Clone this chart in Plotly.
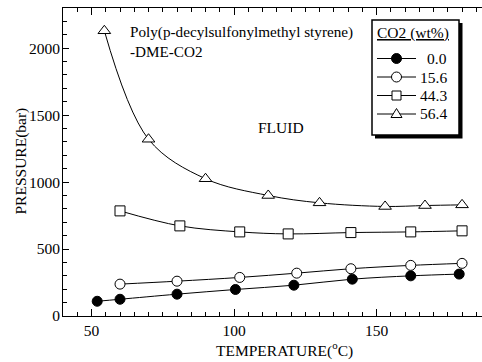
import plotly.graph_objects as go

# Data
temp_00 = [52, 60, 80, 100.5, 121, 141.5, 162, 179]
pres_00 = [110, 125, 163, 198, 230, 275, 300, 313]

temp_156 = [60, 80, 102, 122, 141, 162, 180]
pres_156 = [238, 260, 288, 320, 353, 378, 393]

temp_443 = [60, 81, 102, 119, 141, 162, 180]
pres_443 = [785, 673, 628, 613, 623, 628, 636]

temp_564 = [54.5, 70, 90, 112, 130, 153, 167, 180]
pres_564 = [2130, 1320, 1025, 900, 845, 818, 825, 830]

series_names = ["0.0", "15.6", "44.3", "56.4"]
legend_title = "CO2 (wt%)"

FONT = "Liberation Serif, Times New Roman, serif"
FS = 15.5

# plot area in pixels (used to place the hand-made legend box)
L, R, T, B = 63, 482, 8, 316


def px(xp):
    return (xp - L) / (R - L)


def py(yp):
    return (B - yp) / (B - T)


fig = go.Figure()

styles = [
    ("circle", "black"),
    ("circle", "white"),
    ("square", "white"),
    ("triangle-up", "white"),
]
data = [(temp_00, pres_00), (temp_156, pres_156), (temp_443, pres_443), (temp_564, pres_564)]
for (x, y), (sym, fill), name in zip(data, styles, series_names):
    fig.add_trace(go.Scatter(
        x=x, y=y, name=name, mode="lines+markers", showlegend=False,
        line=dict(color="black", width=1, shape="spline", smoothing=1),
        marker=dict(symbol=sym, size=10 if sym != "triangle-up" else 11,
                    color=fill, line=dict(color="black", width=1)),
    ))

shapes = [
    # legend shadow and box
    dict(type="rect", xref="paper", yref="paper",
         x0=px(375), x1=px(462.5), y0=py(138.5), y1=py(23),
         fillcolor="black", line=dict(width=0), layer="above"),
    dict(type="rect", xref="paper", yref="paper",
         x0=px(372), x1=px(459), y0=py(135), y1=py(20),
         fillcolor="white", line=dict(color="black", width=1.5), layer="above"),
]
annotations = [
    dict(x=px(413), y=py(33.5), xref="paper", yref="paper", showarrow=False,
         xanchor="center", yanchor="middle",
         text="<u>" + legend_title + "</u>", font=dict(size=FS)),
]
row_y = [58.5, 77, 95.5, 114]
for (sym, fill), name, ry in zip(styles, series_names, row_y):
    shapes.append(dict(type="line", xref="paper", yref="paper",
                       x0=px(377), x1=px(416), y0=py(ry), y1=py(ry),
                       line=dict(color="black", width=1), layer="above"))
    common = dict(xref="paper", yref="paper", xsizemode="pixel", ysizemode="pixel",
                  xanchor=px(396.5), yanchor=py(ry), fillcolor=fill,
                  line=dict(color="black", width=1), layer="above")
    if sym == "circle":
        shapes.append(dict(type="circle", x0=-5, x1=5, y0=-5, y1=5, **common))
    elif sym == "square":
        shapes.append(dict(type="rect", x0=-4.5, x1=4.5, y0=-4.5, y1=4.5, **common))
    else:
        shapes.append(dict(type="path", path="M -5.5,-3.5 L 5.5,-3.5 L 0,5.5 Z", **common))
    annotations.append(dict(x=px(449), y=py(ry), xref="paper", yref="paper",
                            xanchor="right", yanchor="middle", showarrow=False,
                            text=name, font=dict(size=FS)))

annotations += [
    dict(x=62.7, y=2048, xref="x", yref="y", xanchor="left", yanchor="middle",
         align="left", showarrow=False,
         text="Poly(p-decylsulfonylmethyl styrene)<br>-DME-CO2",
         font=dict(size=15.2)),
    dict(x=116.4, y=1405, xref="x", yref="y", showarrow=False,
         xanchor="center", yanchor="middle",
         text="FLUID", font=dict(size=FS)),
    dict(x=px(284), y=py(362), xref="paper", yref="paper", showarrow=False,
         xanchor="center", yanchor="bottom",
         text="TEMPERATURE(<sup>o</sup>C)", font=dict(size=FS)),
    dict(x=px(20.5), y=py(161), xref="paper", yref="paper", showarrow=False,
         xanchor="center", yanchor="middle",
         textangle=-90, text="PRESSURE(bar)", font=dict(size=FS)),
]

fig.update_layout(
    width=482, height=362,
    margin=dict(l=L, r=0, t=T, b=362 - B, autoexpand=False),
    paper_bgcolor="white", plot_bgcolor="white",
    font=dict(family=FONT, size=FS, color="black"),
    showlegend=False,
    xaxis=dict(
        range=[40, 187], tick0=0, dtick=50, automargin=False,
        showgrid=False, zeroline=False,
        showline=True, linecolor="black", linewidth=1, mirror="ticks",
        ticks="inside", ticklen=7, tickcolor="black",
        minor=dict(dtick=5, ticks="inside", ticklen=4, tickcolor="black"),
        tickfont=dict(size=FS),
    ),
    yaxis=dict(
        range=[0, 2300], tick0=0, dtick=500, automargin=False,
        showgrid=False, zeroline=False,
        showline=True, linecolor="black", linewidth=1, mirror=False,
        ticks="inside", ticklen=6, tickcolor="black",
        minor=dict(dtick=100, ticks="inside", ticklen=4, tickcolor="black"),
        tickfont=dict(size=FS), ticklabelstandoff=-1,
    ),
    shapes=shapes,
    annotations=annotations,
)

fig.write_html(
    "out.html",
    config={"displayModeBar": False},
    post_script="document.body.style.margin='0';document.body.style.overflow='hidden';",
)
